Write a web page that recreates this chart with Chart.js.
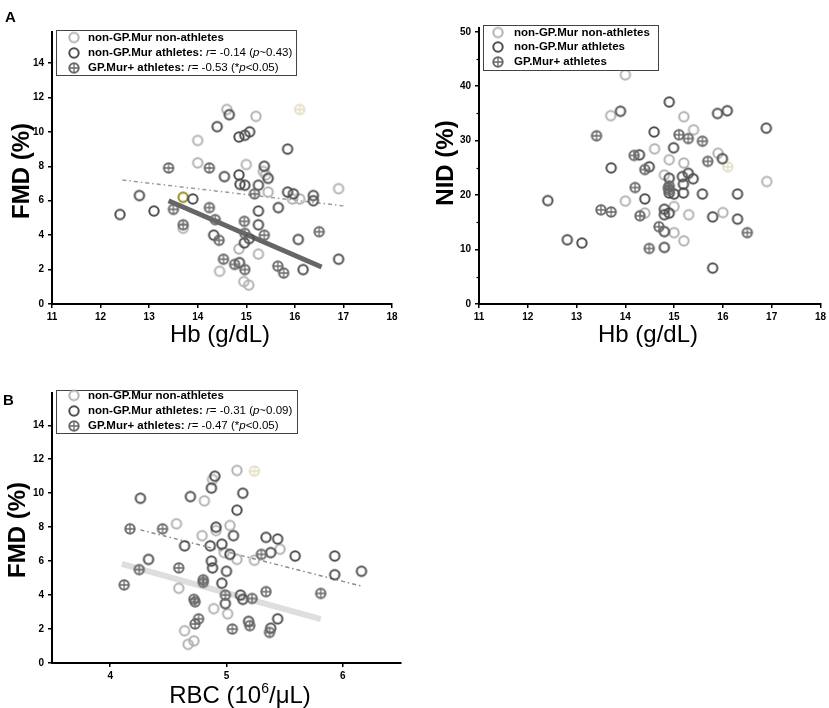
<!DOCTYPE html>
<html>
<head>
<meta charset="utf-8">
<script src="https://cdn.jsdelivr.net/npm/chart.js@4.4.1/dist/chart.umd.min.js"></script>
<style>
  body { margin: 0; background: #fff; }
  #wrap { position: relative; width: 829px; height: 708px; background: #fff; }
  canvas { position: absolute; }
</style>
</head>
<body>
<div id="wrap">
  <canvas id="cA1" width="410" height="360" style="left:0;top:0"></canvas>
  <canvas id="cA2" width="409" height="360" style="left:420px;top:0"></canvas>
  <canvas id="cB" width="420" height="325" style="left:0;top:383px"></canvas>
</div>
<script>
// tick labels
const hbTicks = [11, 12, 13, 14, 15, 16, 17, 18];
const fmdTicks = [0, 2, 4, 6, 8, 10, 12, 14];
const nidTicks = [0, 10, 20, 30, 40, 50];
const nidMinor = [5, 15, 25, 35, 45];
const rbcTicks = [4, 5, 6];

// panel A left: FMD vs Hb
const a1NonAthHb  = [14.6, 15.2, 14.0, 14.0, 15.0, 15.35, 15.4, 15.45, 15.95, 16.1, 16.9, 13.7, 14.85, 15.25, 14.45, 14.95, 15.05];
const a1NonAthFmd = [11.3, 10.9, 9.5, 8.2, 8.1, 7.7, 7.5, 6.5, 6.1, 6.1, 6.7, 4.4, 3.2, 2.9, 1.9, 1.3, 1.1];
const a1AthHb  = [12.4, 12.8, 13.1, 13.9, 14.4, 14.65, 14.55, 14.85, 14.87, 14.97, 14.85, 14.97, 15.07, 15.37, 15.25, 15.45, 15.85, 15.85, 15.97, 16.38, 16.38, 15.66, 15.25, 15.25, 14.33, 16.07, 14.96, 15.06, 14.86, 16.17, 16.9];
const a1AthFmd = [5.2, 6.3, 5.4, 6.1, 10.3, 11.0, 7.4, 7.5, 6.95, 6.9, 9.7, 9.8, 10.0, 8.0, 6.9, 7.3, 9.0, 6.5, 6.4, 6.3, 6.0, 5.6, 5.4, 4.6, 4.0, 3.75, 3.55, 3.8, 2.4, 2.0, 2.6];
const a1GpHb  = [13.4, 14.24, 13.5, 13.7, 14.24, 14.36, 14.44, 14.96, 14.97, 15.37, 14.53, 14.76, 14.97, 15.65, 15.77, 16.5, 15.17];
const a1GpFmd = [7.9, 7.9, 5.5, 4.6, 5.6, 4.9, 3.7, 4.8, 4.1, 4.0, 2.6, 2.3, 2.0, 2.2, 1.8, 4.2, 6.4];
const a1OddHb = [13.7], a1OddFmd = [6.2];
const a1FaintHb = [16.1], a1FaintFmd = [11.3];
const a1FitAthHb = [12.45, 17.0], a1FitAthFmd = [7.2, 5.7];
const a1FitGpHb  = [13.4, 16.55], a1FitGpFmd = [6.0, 2.15];

// panel A right: NID vs Hb
const a2NonAthHb  = [14.0, 13.7, 15.2, 15.4, 14.6, 15.9, 14.9, 15.2, 14.8, 14.0, 14.4, 15.0, 15.3, 16.0, 15.0, 15.2, 16.9];
const a2NonAthNid = [42.1, 34.6, 34.4, 32.0, 28.5, 27.7, 26.5, 25.9, 23.7, 18.9, 16.7, 17.9, 16.4, 16.8, 13.1, 11.6, 22.5];
const a2AthHb  = [13.9, 14.9, 14.59, 14.99, 15.89, 16.09, 16.89, 15.99, 14.29, 14.49, 13.71, 14.9, 15.17, 15.29, 15.39, 15.19, 15.19, 15.58, 16.3, 14.9, 15.0, 14.4, 12.41, 14.8, 14.8, 14.9, 15.79, 16.3, 14.8, 14.8, 12.81, 13.11, 15.79];
const a2AthNid = [35.4, 37.1, 31.6, 28.7, 35.0, 35.5, 32.3, 26.7, 27.4, 25.2, 25.0, 23.1, 23.4, 24.0, 23.0, 22.0, 20.4, 20.2, 20.2, 20.4, 20.2, 19.3, 19.0, 17.4, 16.4, 16.7, 16.0, 15.6, 13.3, 10.4, 11.8, 11.2, 6.6];
const a2GpHb  = [13.41, 14.18, 14.4, 14.2, 13.5, 13.71, 14.3, 14.69, 14.49, 15.1, 15.29, 15.58, 15.69, 16.5, 14.9, 14.9, 14.88];
const a2GpNid = [30.9, 27.3, 24.7, 21.4, 17.3, 16.9, 16.2, 14.2, 10.2, 31.1, 30.4, 29.9, 26.2, 13.1, 21.7, 20.9, 21.3];
const a2FaintHb = [16.1], a2FaintNid = [25.2];

// panel B: FMD vs RBC
const bNonAthRbc = [5.09, 4.88, 4.81, 4.57, 5.03, 4.91, 4.79, 4.98, 5.09, 5.24, 5.46, 4.59, 4.89, 5.01, 4.64, 4.72, 4.67];
const bNonAthFmd = [11.34, 10.8, 9.55, 8.2, 8.1, 7.8, 7.5, 6.5, 6.1, 6.05, 6.7, 4.4, 3.2, 2.9, 1.9, 1.3, 1.1];
const bAthRbc = [4.26, 4.33, 4.64, 4.69, 4.87, 4.90, 5.09, 5.14, 4.91, 4.86, 4.96, 5.06, 4.87, 4.88, 5.03, 5.0, 4.96, 4.99, 5.12, 5.14, 5.34, 5.44, 5.38, 5.59, 5.93, 5.93, 6.16, 5.19, 5.38, 5.44];
const bAthFmd = [9.7, 6.1, 6.9, 9.8, 10.3, 11.0, 9.0, 10.0, 8.0, 6.9, 7.0, 7.5, 6.0, 5.6, 6.4, 5.4, 4.7, 3.5, 4.0, 3.75, 7.4, 7.3, 6.5, 6.3, 6.3, 5.2, 5.4, 2.45, 2.05, 2.6];
const bGpRbc = [4.17, 4.45, 4.25, 4.12, 4.59, 4.80, 4.80, 4.72, 4.73, 4.76, 4.73, 4.99, 5.05, 5.22, 5.2, 5.30, 5.34, 5.37, 5.81];
const bGpFmd = [7.9, 7.9, 5.5, 4.6, 5.6, 4.9, 4.75, 3.75, 3.6, 2.6, 2.3, 4.0, 2.0, 3.8, 2.2, 6.4, 4.2, 1.8, 4.1];
const bFaintRbc = [5.24], bFaintFmd = [11.3];
const bFitAthRbc = [4.26, 6.16], bFitAthFmd = [7.84, 4.53];
const bFitGpRbc  = [4.1, 5.81],  bFitGpFmd = [5.84, 2.59];

const FONT = "Arial, 'Liberation Sans', sans-serif";

function pts(xs, ys) { return xs.map((x, i) => ({ x: x, y: ys[i] })); }

// hollow circle marker, optionally with a plus inside
function ring(color, cross) {
  const c = document.createElement('canvas');
  c.width = 14; c.height = 14;
  const g = c.getContext('2d');
  g.strokeStyle = color;
  g.lineWidth = 2;
  g.beginPath(); g.arc(7, 7, 4.7, 0, Math.PI * 2); g.stroke();
  if (cross) {
    g.lineWidth = 1.3;
    g.beginPath();
    g.moveTo(7, 2.3); g.lineTo(7, 11.7);
    g.moveTo(2.3, 7); g.lineTo(11.7, 7);
    g.stroke();
  }
  return c;
}
const mkLight = ring('#b2b2b2', false);
const mkDark = ring('#4e4e4e', false);
const mkGp = ring('#6a6a6a', true);
const mkOlive = ring('#8e8a12', false);
const mkFaint = ring('#e4dfc2', true);

function dots(data, mk) { return { data: data, pointStyle: mk, pointRadius: 6, order: 0 }; }
function fit(data, color, w, dash) {
  return { data: data, showLine: true, pointRadius: 0, borderColor: color, borderWidth: w,
           borderDash: dash || [], borderCapStyle: 'butt', order: 5 };
}

function xAxis(min, max, ticks, h) {
  return {
    type: 'linear', min: min, max: max,
    afterBuildTicks: a => { a.ticks = ticks.map(v => ({ value: v })); },
    afterFit: a => { a.height = h; },
    grid: { drawOnChartArea: false, drawTicks: true, tickLength: 4, color: '#000', lineWidth: 1.5 },
    border: { color: '#000', width: 2 },
    ticks: { color: '#000', font: { family: FONT, size: 10, weight: 'bold' }, padding: 3, maxRotation: 0, autoSkip: false }
  };
}
function yAxis(max, ticks, w) {
  return {
    type: 'linear', min: 0, max: max,
    afterBuildTicks: a => { a.ticks = ticks.map(v => ({ value: v })); },
    afterFit: a => { a.width = w; },
    grid: { drawOnChartArea: false, drawTicks: true, tickLength: 4, color: '#000', lineWidth: 1.5 },
    border: { color: '#000', width: 2 },
    ticks: { color: '#000', font: { family: FONT, size: 10, weight: 'bold' }, padding: 4, autoSkip: false }
  };
}

// legend box, axis titles, panel letter, minor ticks
const deco = {
  id: 'deco',
  afterDraw(chart, args, o) {
    const c = chart.ctx;
    c.save();
    c.textBaseline = 'middle';
    if (o.minor) {
      const ys = chart.scales.y;
      c.strokeStyle = '#000'; c.lineWidth = 1.2;
      o.minor.forEach(v => {
        const py = Math.round(ys.getPixelForValue(v)) + 0.5;
        c.beginPath(); c.moveTo(ys.right - 2.5, py); c.lineTo(ys.right, py); c.stroke();
      });
    }
    if (o.legend) {
      const b = o.legend;
      c.fillStyle = '#fff';
      c.fillRect(b.x, b.y, b.w, b.h);
      c.strokeStyle = '#444'; c.lineWidth = 1;
      c.strokeRect(b.x + 0.5, b.y + 0.5, b.w, b.h);
      b.rows.forEach(r => {
        c.drawImage(r.mk, b.mx - 7, r.y - 7);
        let x = b.tx;
        c.fillStyle = '#000';
        r.segs.forEach(s => {
          c.font = s[1] + ' 11.5px ' + FONT;
          c.fillText(s[0], x, r.y);
          x += c.measureText(s[0]).width;
        });
      });
    }
    c.fillStyle = '#000';
    if (o.xTitle) {
      const t = o.xTitle;
      c.textBaseline = 'alphabetic';
      let total = 0;
      t.segs.forEach(s => { c.font = s[1] + 'px ' + FONT; total += c.measureText(s[0]).width; });
      let x = t.x - total / 2;
      t.segs.forEach(s => {
        c.font = s[1] + 'px ' + FONT;
        c.fillText(s[0], x, t.y + (s[2] || 0));
        x += c.measureText(s[0]).width;
      });
    }
    if (o.yTitle) {
      const t = o.yTitle;
      c.save();
      c.translate(t.x, t.y);
      c.rotate(-Math.PI / 2);
      c.textAlign = 'center'; c.textBaseline = 'middle';
      c.font = 'bold 24px ' + FONT;
      c.fillText(t.text, 0, 0);
      c.restore();
    }
    if (o.letter) {
      c.textBaseline = 'alphabetic'; c.textAlign = 'left';
      c.font = 'bold 15px ' + FONT;
      c.fillText(o.letter.text, o.letter.x, o.letter.y);
    }
    c.restore();
  }
};

function statRow(name, r, p, y, mk) {
  return { mk: mk, y: y, segs: [[name, 'bold'], [' ', ''], ['r', 'italic'], ['= ' + r + ' (', ''], ['p', 'italic'], [p + ')', '']] };
}
function gpRow(r, p, y) {
  return { mk: mkGp, y: y, segs: [['GP.Mur+ athletes:', 'bold'], [' ', ''], ['r', 'italic'], ['= ' + r + ' (*', ''], ['p', 'italic'], [p + ')', '']] };
}

function makeChart(id, datasets, scales, pad, deco_o) {
  return new Chart(document.getElementById(id), {
    type: 'scatter',
    data: { datasets: datasets },
    options: {
      responsive: false, animation: false,
      layout: { padding: pad },
      scales: scales,
      plugins: { legend: { display: false }, tooltip: { enabled: false }, deco: deco_o }
    },
    plugins: [deco]
  });
}

makeChart('cA1', [
  dots(pts(a1GpHb, a1GpFmd), mkGp),
  dots(pts(a1AthHb, a1AthFmd), mkDark),
  dots(pts(a1NonAthHb, a1NonAthFmd), mkLight),
  dots(pts(a1OddHb, a1OddFmd), mkOlive),
  dots(pts(a1FaintHb, a1FaintFmd), mkFaint),
  fit(pts(a1FitGpHb, a1FitGpFmd), '#666', 5),
  fit(pts(a1FitAthHb, a1FitAthFmd), '#9a9a9a', 1.5, [4, 3, 1.5, 3])
], { x: xAxis(11, 18, hbTicks, 56), y: yAxis(15.8, fmdTicks, 52) },
{ top: 32, right: 18, left: 0, bottom: 0 },
{
  legend: { x: 56, y: 30, w: 240, h: 45, mx: 74, tx: 88, rows: [
    { mk: mkLight, y: 37.5, segs: [['non-GP.Mur non-athletes', 'bold']] },
    statRow('non-GP.Mur athletes:', '-0.14', '~0.43', 53, mkDark),
    gpRow('-0.53', '<0.05', 68)
  ] },
  xTitle: { x: 220, y: 342, segs: [['Hb (g/dL)', '24']] },
  yTitle: { x: 22, y: 171, text: 'FMD (%)' },
  letter: { x: 5, y: 22, text: 'A' }
});

makeChart('cA2', [
  dots(pts(a2GpHb, a2GpNid), mkGp),
  dots(pts(a2AthHb, a2AthNid), mkDark),
  dots(pts(a2NonAthHb, a2NonAthNid), mkLight),
  dots(pts(a2FaintHb, a2FaintNid), mkFaint)
], { x: xAxis(11, 18, hbTicks, 56), y: yAxis(50.7, nidTicks, 59) },
{ top: 28, right: 7, left: 0, bottom: 0 },
{
  minor: nidMinor,
  legend: { x: 63, y: 25, w: 175, h: 45, mx: 78, tx: 94, rows: [
    { mk: mkLight, y: 32.5, segs: [['non-GP.Mur non-athletes', 'bold']] },
    { mk: mkDark, y: 47, segs: [['non-GP.Mur athletes', 'bold']] },
    { mk: mkGp, y: 62, segs: [['GP.Mur+ athletes', 'bold']] }
  ] },
  xTitle: { x: 228, y: 342, segs: [['Hb (g/dL)', '24']] },
  yTitle: { x: 26, y: 163, text: 'NID (%)' }
});

makeChart('cB', [
  dots(pts(bGpRbc, bGpFmd), mkGp),
  dots(pts(bAthRbc, bAthFmd), mkDark),
  dots(pts(bNonAthRbc, bNonAthFmd), mkLight),
  dots(pts(bFaintRbc, bFaintFmd), mkFaint),
  fit(pts(bFitAthRbc, bFitAthFmd), '#8a8a8a', 1.5, [4, 3, 1.5, 3]),
  fit(pts(bFitGpRbc, bFitGpFmd), '#dedede', 6)
], { x: xAxis(3.5, 6.5, rbcTicks, 45), y: yAxis(15.9, fmdTicks, 52) },
{ top: 9, right: 19, left: 0, bottom: 0 },
{
  legend: { x: 56, y: 7, w: 241, h: 43, mx: 74, tx: 88, rows: [
    { mk: mkLight, y: 12.5, segs: [['non-GP.Mur non-athletes', 'bold']] },
    statRow('non-GP.Mur athletes:', '-0.31', '~0.09', 28, mkDark),
    gpRow('-0.47', '<0.05', 43)
  ] },
  xTitle: { x: 240, y: 320, segs: [['RBC (10', '24'], ['6', '14', -10], ['/\u03bcL)', '24']] },
  yTitle: { x: 18, y: 147, text: 'FMD (%)' },
  letter: { x: 3, y: 22, text: 'B' }
});
</script>
</body>
</html>
